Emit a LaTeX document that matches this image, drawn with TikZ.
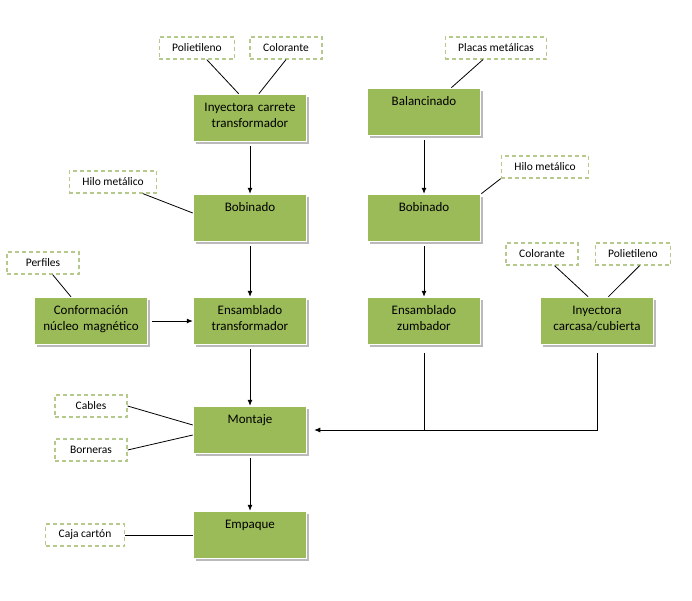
\documentclass[tikz,border=0pt]{standalone}
\usepackage{fontspec}
\setmainfont{Carlito}
\usetikzlibrary{arrows.meta,shadows}
\definecolor{procgreen}{HTML}{9BBB59}
\definecolor{inputdash}{HTML}{B5C98C}
\tikzset{
  proc/.style={rectangle,fill=procgreen,draw=white,line width=1.5pt,
    minimum width=113pt,minimum height=47pt,inner sep=0pt,
    text width=108pt,align=center,text height=9pt,text depth=22pt,
    font=\fontsize{13}{16}\selectfont,
    drop shadow={shadow xshift=2pt,shadow yshift=-2pt,fill=black!45,opacity=0.6}},
  insumo/.style={rectangle,draw=inputdash,fill=white,line width=1.2pt,
    dash pattern=on 4pt off 3pt,minimum width=72pt,minimum height=22pt,
    inner xsep=13pt,font=\fontsize{11.5}{14}\selectfont},
  flecha/.style={-{Latex[length=6pt,width=5pt]},line width=0.8pt,shorten <=4pt},
  linea/.style={-,line width=0.8pt},
}
\begin{document}
\begin{tikzpicture}[x=1pt,y=-1pt]
\useasboundingbox (0,0) rectangle (692,600);

\node[proc] (iny1) at (250,118) {Inyectora carrete\\transformador};
\node[proc] (bal) at (424,112) {Balancinado};
\node[proc] (bob1) at (250,218) {Bobinado};
\node[proc] (bob2) at (424,218) {Bobinado};
\node[proc] (conf) at (91,321) {Conformación\\núcleo magnético};
\node[proc] (ens1) at (250,321) {Ensamblado\\transformador};
\node[proc] (ens2) at (424,321) {Ensamblado\\zumbador};
\node[proc] (iny2) at (597,321) {Inyectora\\carcasa/cubierta};
\node[proc] (mont) at (250,430) {Montaje};
\node[proc] (emp) at (250,535) {Empaque};

\node[insumo] (pol1) at (197,48) {Polietileno};
\node[insumo] (col1) at (286,48) {Colorante};
\node[insumo] (plac) at (496,48) {Placas metálicas};
\node[insumo] (hilo1) at (113,182) {Hilo metálico};
\node[insumo] (hilo2) at (545,167) {Hilo metálico};
\node[insumo] (perf) at (43,263) {Perfiles};
\node[insumo] (col2) at (542,254) {Colorante};
\node[insumo] (pol2) at (633,254) {Polietileno};
\node[insumo] (cab) at (91,406) {Cables};
\node[insumo] (born) at (91,450) {Borneras};
\node[insumo] (caja) at (85,535) {Caja cartón};

\path [linea] (pol1.-50) edge (iny1.115); \path [linea] (col1.south) edge (iny1.70);
\path [linea] (plac) edge (bal);
\path [linea] (hilo1) edge (bob1.175); \path [linea] (hilo2.south west) edge (bob2.north east);
\path [linea] (perf) edge (conf);
\path [linea] (col2) edge (iny2.110); \path [linea] (pol2.-60) edge (iny2.65);
\path [linea] (cab.east) edge (mont.175); \path [linea] (born.east) edge (mont.185);
\path [linea] (caja) edge (emp);

\path [flecha] (iny1) edge (bob1); \path [flecha] (bal) edge (bob2);
\path [flecha] (bob1) edge (ens1); \path [flecha] (bob2) edge (ens2);
\path [flecha] (conf) edge (ens1);
\path [flecha] (ens1) edge (mont); \path [flecha] (mont) edge (emp);

\coordinate (union) at (ens2.south |- mont.east);
\draw [linea,shorten <=8pt] (ens2.south) -- (union);
\draw [flecha,shorten <=8pt,shorten >=7pt] (iny2.south) |- (mont.east);

\end{tikzpicture}
\end{document}
